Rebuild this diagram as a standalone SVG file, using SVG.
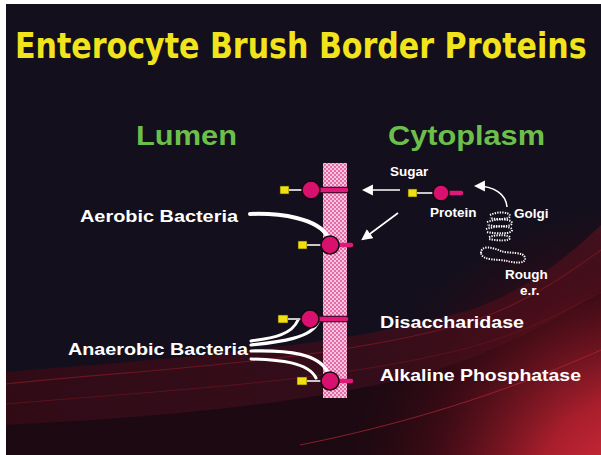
<svg xmlns="http://www.w3.org/2000/svg" width="601" height="455" viewBox="0 0 601 455">
  <defs>
    <style>
      .title { font-family: "DejaVu Sans", sans-serif; font-weight: bold; fill: #f2e41c; }
      .side { font-family: "Liberation Sans", Arial, sans-serif; font-weight: bold; fill: #6dbf4b; font-size: 27px; }
      .lbl { font-family: "Liberation Sans", Arial, sans-serif; font-weight: bold; fill: #ffffff; }
      .sm { font-size: 13.5px; }
      .md { font-size: 17px; }
      .sq { fill: #f0e010; stroke: #3a3000; stroke-width: 0.6; }
      .tie { stroke: #c8c8c8; stroke-width: 2; }
      .stem { stroke: #e0187a; stroke-width: 4.5; stroke-linecap: round; }
      .stemo { stroke: #200818; stroke-width: 6.5; stroke-linecap: round; }
      .ball { fill: #d8106e; stroke: #1a0610; stroke-width: 1.5; }
      .arrow { fill: none; stroke: #ffffff; stroke-width: 1.6; }
      .flow { fill: none; stroke: #ffffff; stroke-linecap: round; }
      .dots { fill: none; stroke: #ffffff; stroke-width: 2; stroke-dasharray: 1.3 1.2; }
    </style>
    <pattern id="checker" width="4" height="4" patternUnits="userSpaceOnUse">
      <rect width="4" height="4" fill="#f7c6de"/>
      <rect width="2" height="2" fill="#e46aa8"/>
      <rect x="2" y="2" width="2" height="2" fill="#e46aa8"/>
    </pattern>
    <radialGradient id="glow" cx="640" cy="500" r="300" gradientUnits="userSpaceOnUse">
      <stop offset="0" stop-color="#e0303c"/>
      <stop offset="0.35" stop-color="#a81e2c"/>
      <stop offset="0.7" stop-color="#4a0c16" stop-opacity="0.7"/>
      <stop offset="1" stop-color="#2a0810" stop-opacity="0"/>
    </radialGradient>
    <linearGradient id="band" x1="0" y1="0" x2="1" y2="0">
      <stop offset="0" stop-color="#3a0a14" stop-opacity="0.75"/>
      <stop offset="0.6" stop-color="#4a0c18" stop-opacity="0.6"/>
      <stop offset="1" stop-color="#7a1624" stop-opacity="0.5"/>
    </linearGradient>
    <marker id="head" viewBox="0 0 10 10" refX="8" refY="5" markerWidth="7" markerHeight="7" orient="auto-start-reverse">
      <path d="M0,0 L10,5 L0,10 z" fill="#ffffff"/>
    </marker>
  </defs>

  <!-- slide background -->
  <rect width="601" height="455" fill="#ffffff"/>
  <rect x="6" y="4" width="595" height="451" fill="#130f1d"/>
  <g id="backdrop">
    <path d="M6,372 C150,360 330,350 470,310 C530,290 575,250 601,225 L601,455 L6,455 z" fill="url(#band)"/>
    <path d="M6,425 C150,418 300,405 420,375 C500,352 560,318 601,290 L601,455 L6,455 z" fill="#160810" opacity="0.75"/>
    <rect x="6" y="4" width="595" height="451" fill="url(#glow)"/>
    <path d="M6,384 C160,368 330,362 470,322 C530,302 570,272 601,250" fill="none" stroke="#7a1624" stroke-width="1.2" opacity="0.8"/>
    <path d="M6,404 C170,390 330,382 460,350 C530,332 570,308 601,292" fill="none" stroke="#6a1420" stroke-width="1" opacity="0.7"/>
    <path d="M300,445 C400,425 500,395 601,350" fill="none" stroke="#b02834" stroke-width="1" opacity="0.7"/>
  </g>

  <!-- headings -->
  <g id="title" transform="translate(15,58) scale(0.82,1)">
    <text class="title" x="0" y="0" font-size="35" textLength="697" lengthAdjust="spacingAndGlyphs">Enterocyte Brush Border Proteins</text>
  </g>
  <g id="lumen"><text class="side" x="136" y="145" textLength="101" lengthAdjust="spacingAndGlyphs">Lumen</text></g>
  <g id="cytoplasm"><text class="side" x="388" y="145" textLength="157" lengthAdjust="spacingAndGlyphs">Cytoplasm</text></g>

  <!-- brush border membrane -->
  <g id="membrane">
    <rect x="323" y="163" width="24" height="235" fill="url(#checker)"/>
  </g>

  <!-- connectors -->
  <g id="connectors">
    <line class="arrow" x1="400" y1="190" x2="364" y2="190" marker-end="url(#head)"/>
    <line class="arrow" x1="398" y1="213" x2="363" y2="239" marker-end="url(#head)"/>
    <path class="arrow" d="M507,207 C506,194 494,186 476,186" marker-end="url(#head)"/>
    <!-- aerobic bacteria flow -->
    <path class="flow" d="M250,214 C280,213 318,218 328,237" stroke-width="4"/>
    <!-- anaerobic bacteria flows -->
    <path class="flow" d="M251,341 C275,338 292,334 298,320" stroke-width="3"/>
    <path class="flow" d="M251,345 C280,342 312,338 318,322" stroke-width="3.2"/>
    <path class="flow" d="M251,351 C290,350 318,354 328,372" stroke-width="3.2"/>
    <path class="flow" d="M251,359 C280,360 308,362 316,378" stroke-width="3"/>
  </g>

  <!-- golgi stack and rough e.r. -->
  <g id="golgi">
    <path class="dots" d="M490,215 C498,211 510,212 510,216 C510,219 498,220 490,218"/>
    <path class="dots" d="M487,222 C498,218 512,219 512,223 C512,227 498,227 487,225"/>
    <path class="dots" d="M486,229 C498,225 512,226 512,230 C512,234 498,234 486,232"/>
    <path class="dots" d="M489,237 C498,234 510,235 510,238 C510,241 498,241 489,239"/>
  </g>
  <g id="rough-er">
    <path class="dots" d="M481,253 C481,245 492,247 501,251 C509,254 524,251 525,258 C526,264 515,263 507,261 C498,259 482,261 481,253 z"/>
  </g>

  <!-- membrane proteins -->
  <g id="protein-top">
    <rect class="sq" x="280" y="186" width="9" height="8"/>
    <line class="tie" x1="289" y1="190" x2="304" y2="190"/>
    <line class="stemo" x1="318" y1="190" x2="346" y2="190"/>
    <line class="stem" x1="318" y1="190" x2="346" y2="190"/>
    <circle class="ball" cx="311" cy="190" r="9"/>
  </g>
  <g id="protein-aerobic">
    <rect class="sq" x="298" y="241" width="9" height="8"/>
    <line class="tie" x1="307" y1="245" x2="322" y2="245"/>
    <line class="stem" x1="336" y1="245" x2="351" y2="245"/>
    <circle class="ball" cx="330" cy="245" r="9"/>
  </g>
  <g id="protein-cytoplasm">
    <rect class="sq" x="408" y="189" width="9" height="8"/>
    <line class="tie" x1="417" y1="193" x2="434" y2="193"/>
    <line class="stem" x1="446" y1="193" x2="461" y2="193"/>
    <circle class="ball" cx="441" cy="193" r="8"/>
  </g>
  <g id="protein-disaccharidase">
    <rect class="sq" x="278" y="315" width="10" height="8"/>
    <line class="tie" x1="288" y1="319" x2="302" y2="319"/>
    <line class="stemo" x1="316" y1="319" x2="346" y2="319"/>
    <line class="stem" x1="316" y1="319" x2="346" y2="319"/>
    <circle class="ball" cx="310" cy="319" r="9"/>
  </g>
  <g id="protein-phosphatase">
    <rect class="sq" x="297" y="377" width="10" height="8"/>
    <line class="tie" x1="307" y1="381" x2="322" y2="381"/>
    <line class="stem" x1="336" y1="381" x2="351" y2="381"/>
    <circle class="ball" cx="330" cy="381" r="9"/>
  </g>

  <!-- labels -->
  <g id="labels">
    <text class="lbl sm" x="390" y="176">Sugar</text>
    <text class="lbl sm" x="430" y="217">Protein</text>
    <text class="lbl sm" x="514" y="218">Golgi</text>
    <text class="lbl sm" x="505" y="279">Rough</text>
    <text class="lbl sm" x="520" y="295">e.r.</text>
    <text class="lbl md" x="80" y="222" textLength="158" lengthAdjust="spacingAndGlyphs">Aerobic Bacteria</text>
    <text class="lbl md" x="68" y="355" textLength="180" lengthAdjust="spacingAndGlyphs">Anaerobic Bacteria</text>
    <text class="lbl md" x="380" y="328" textLength="144" lengthAdjust="spacingAndGlyphs">Disaccharidase</text>
    <text class="lbl md" x="380" y="381" textLength="201" lengthAdjust="spacingAndGlyphs">Alkaline Phosphatase</text>
  </g>
</svg>
